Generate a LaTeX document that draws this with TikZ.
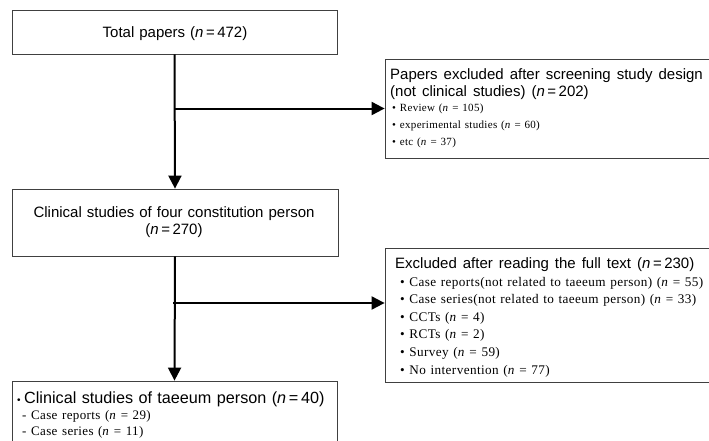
\documentclass[tikz,border=0pt]{standalone}
\usepackage{fontspec}
\setmainfont{Liberation Serif}[LetterSpace=3, WordSpace=1.25]
\newfontfamily\headfont{Liberation Sans}[WordSpace=1.4]
\newfontfamily\headfontR{Liberation Sans}[WordSpace=1.2]
\usetikzlibrary{arrows.meta}
\begin{document}
\begin{tikzpicture}[x=1pt,y=-1pt,
  box/.style={draw=black!75, line width=0.8pt, rectangle, inner sep=0pt},
  flow/.style={line width=2pt, -{Triangle[length=13pt,width=13pt]}},
  hd/.style={font=\headfont\fontsize{15}{18}\selectfont, inner sep=0pt},
  hdr/.style={font=\headfontR\fontsize{15}{18}\selectfont, inner sep=0pt, anchor=base west},
  itA/.style={font=\fontsize{11}{13}\selectfont, anchor=base west, inner sep=0pt},
  itB/.style={font=\fontsize{13.2}{16}\selectfont, anchor=base west, inner sep=0pt},
  itC/.style={font=\fontsize{13}{16}\selectfont, anchor=base west, inner sep=0pt}]
\useasboundingbox (0,0) rectangle (709,440);
\clip (0,0) rectangle (709,440);
% boxes
\node[box, minimum width=325pt, minimum height=44pt] (b1) at (174.5,32) {};
\node[box, minimum width=326pt, minimum height=67pt] (b2) at (175,222.5) {};
\node[box, minimum width=325pt, minimum height=79pt] (b3) at (174.5,420.5) {};
\node[box, minimum width=345pt, minimum height=99pt] (r1) at (557.5,108.5) {};
\node[box, minimum width=345pt, minimum height=134pt] (r2) at (557.5,315) {};
% texts
\node[hd, anchor=base] (t1) at (175,37) {Total papers (\textit{n}\,=\,472)};
\node[hd, anchor=base] (t2a) at (174,217) {Clinical studies of four constitution person};
\node[hd, anchor=base] (t2b) at (174,234) {(\textit{n}\,=\,270)};
\node[hdr] (r1a) at (390,79) {Papers excluded after screening study design};
\node[hdr] (r1b) at (390,96) {(not clinical studies) (\textit{n}\,=\,202)};
\node[itA] (r1c) at (392,111) {• Review (\textit{n} = 105)};
\node[itA] (r1d) at (392,128) {• experimental studies (\textit{n} = 60)};
\node[itA] (r1e) at (392,145) {• etc (\textit{n} = 37)};
\node[hdr] (r2a) at (395,268) {Excluded after reading the full text (\textit{n}\,=\,230)};
\node[itB] (r2b) at (400,286) {• Case reports(not related to taeeum person) (\textit{n} = 55)};
\node[itB] (r2c) at (400,303.6) {• Case series(not related to taeeum person) (\textit{n} = 33)};
\node[itB] (r2d) at (400,321.2) {• CCTs (\textit{n} = 4)};
\node[itB] (r2e) at (400,338.8) {• RCTs (\textit{n} = 2)};
\node[itB] (r2f) at (400,356.4) {• Survey (\textit{n} = 59)};
\node[itB] (r2g) at (400,374) {• No intervention (\textit{n} = 77)};
\node[hd, anchor=base west, font=\headfont\fontsize{16.2}{18}\selectfont] (b3a) at (17,403)
  {{\fontsize{10}{10}\selectfont •}\hspace{3.5pt}Clinical studies of taeeum person (\textit{n}\,=\,40)};
\node[itC] (b3b) at (22,419) {- Case reports (\textit{n} = 29)};
\node[itC] (b3c) at (22,435) {- Case series (\textit{n} = 11)};
% connectors
\coordinate (j1) at (b1.south |- r1.west);
\coordinate (j2) at (173,303);
\draw[flow] (b1.south) -- (b2.north);
\draw[flow] (j1) -- (r1.west);
\draw[flow] (b2.south) -- (b3.north);
\draw[flow] (j2) -- (j2 -| r2.west);
\end{tikzpicture}
\end{document}
